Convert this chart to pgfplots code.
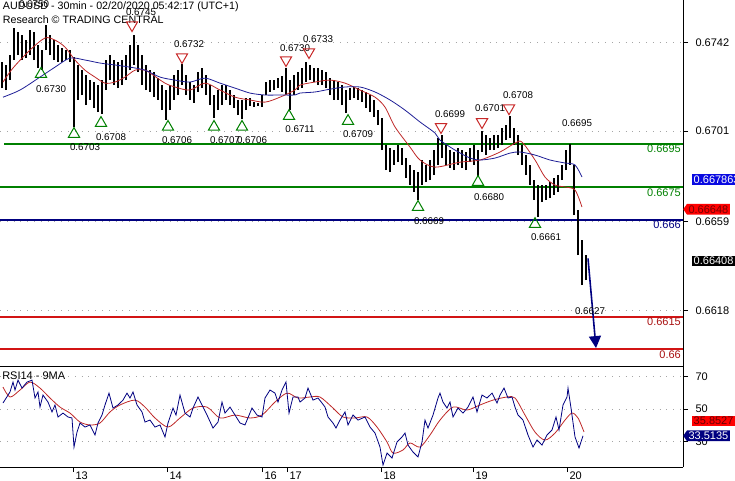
\documentclass[border=0pt]{standalone}
\usepackage{fontspec}
\setmainfont{Liberation Sans}
\usepackage{pgfplots}
\pgfplotsset{compat=1.18}
\usepackage{pgfplotstable}
\usetikzlibrary{arrows.meta,shapes.symbols}

\definecolor{lgreen}{RGB}{0,128,0}
\definecolor{lnavy}{RGB}{0,0,128}
\definecolor{lred}{RGB}{210,20,20}
\definecolor{mared}{RGB}{190,40,40}
\definecolor{mablue}{RGB}{30,30,150}
\definecolor{gridc}{RGB}{165,165,165}
\definecolor{boxblue}{RGB}{10,10,225}
\definecolor{tri}{RGB}{200,40,40}
\newcommand\fs{\fontsize{11}{12.5}\selectfont}
\newcommand\fp{\fontsize{9.8}{11}\selectfont}

\pgfplotstableread{
x lo hi
2 0.67209 0.67329
6 0.67200 0.67316
10 0.67246 0.67362
14 0.67339 0.67487
18 0.67362 0.67468
22 0.67339 0.67454
26 0.67348 0.67431
30 0.67362 0.67478
34 0.67339 0.67468
38 0.67302 0.67408
42 0.67292 0.67385
46 0.67385 0.67501
50 0.67362 0.67454
54 0.67339 0.67431
58 0.67329 0.67408
62 0.67329 0.67394
66 0.67339 0.67385
70 0.67329 0.67385
74 0.67029 0.67353
78 0.67154 0.67316
82 0.67177 0.67292
86 0.67130 0.67269
90 0.67154 0.67246
94 0.67116 0.67237
98 0.67098 0.67223
102 0.67089 0.67246
106 0.67200 0.67339
110 0.67246 0.67362
114 0.67223 0.67339
118 0.67209 0.67329
122 0.67223 0.67339
126 0.67246 0.67362
130 0.67292 0.67408
134 0.67316 0.67454
138 0.67283 0.67408
142 0.67223 0.67362
146 0.67200 0.67316
150 0.67191 0.67292
154 0.67167 0.67283
158 0.67154 0.67255
162 0.67107 0.67223
166 0.67061 0.67200
170 0.67107 0.67223
174 0.67154 0.67269
178 0.67177 0.67292
182 0.67223 0.67320
186 0.67177 0.67269
190 0.67154 0.67237
194 0.67140 0.67223
198 0.67191 0.67283
202 0.67209 0.67302
206 0.67177 0.67269
210 0.67130 0.67223
214 0.67070 0.67177
218 0.67107 0.67200
222 0.67130 0.67223
226 0.67154 0.67223
230 0.67130 0.67200
234 0.67116 0.67177
238 0.67084 0.67154
242 0.67066 0.67154
246 0.67107 0.67163
250 0.67126 0.67163
254 0.67121 0.67144
258 0.67126 0.67140
262 0.67121 0.67177
266 0.67177 0.67237
270 0.67191 0.67246
274 0.67200 0.67246
278 0.67209 0.67255
282 0.67191 0.67265
286 0.67177 0.67302
290 0.67107 0.67246
294 0.67177 0.67269
298 0.67200 0.67283
302 0.67209 0.67302
306 0.67237 0.67329
310 0.67246 0.67316
314 0.67237 0.67302
318 0.67223 0.67302
322 0.67223 0.67292
326 0.67209 0.67283
330 0.67177 0.67255
334 0.67154 0.67246
338 0.67154 0.67237
342 0.67130 0.67223
346 0.67093 0.67200
350 0.67154 0.67209
354 0.67163 0.67214
358 0.67154 0.67209
362 0.67144 0.67200
366 0.67116 0.67191
370 0.67098 0.67177
374 0.67075 0.67154
378 0.67038 0.67107
382 0.66922 0.67070
386 0.66829 0.66945
390 0.66820 0.66931
394 0.66853 0.66922
398 0.66866 0.66945
402 0.66853 0.66931
406 0.66792 0.66885
410 0.66760 0.66853
414 0.66728 0.66829
418 0.66691 0.66820
422 0.66760 0.66876
426 0.66774 0.66853
430 0.66783 0.66876
434 0.66806 0.66922
438 0.66853 0.66978
442 0.66885 0.66991
446 0.66853 0.66945
450 0.66839 0.66922
454 0.66829 0.66913
458 0.66853 0.66931
462 0.66839 0.66922
466 0.66829 0.66913
470 0.66866 0.66931
474 0.66853 0.66945
478 0.66802 0.66922
482 0.66913 0.67010
486 0.66899 0.66991
490 0.66922 0.66978
494 0.66922 0.66991
498 0.66931 0.66991
502 0.66945 0.67024
506 0.66968 0.67038
510 0.66978 0.67079
514 0.66945 0.67024
518 0.66899 0.66991
522 0.66853 0.66945
526 0.66806 0.66899
530 0.66760 0.66853
534 0.66691 0.66783
538 0.66612 0.66760
542 0.66681 0.66760
546 0.66691 0.66760
550 0.66700 0.66774
554 0.66714 0.66792
558 0.66728 0.66806
562 0.66783 0.66853
566 0.66829 0.66922
570 0.66853 0.66950
574 0.66621 0.66853
578 0.66436 0.66644
582 0.66297 0.66505
586 0.66320 0.66436
}\bars

\pgfplotstableread{
x y
3 0.67237
13 0.67302
30 0.67385
45 0.67441
55 0.67431
65 0.67399
75 0.67339
85 0.67292
95 0.67260
105 0.67232
115 0.67237
125 0.67260
135 0.67292
145 0.67292
150 0.67279
165 0.67232
175 0.67214
190 0.67200
205 0.67232
220 0.67200
235 0.67167
250 0.67154
265 0.67144
280 0.67167
295 0.67200
300 0.67223
315 0.67237
330 0.67246
345 0.67232
360 0.67200
375 0.67167
385 0.67121
395 0.67029
410 0.66936
420 0.66876
435 0.66843
460 0.66866
480 0.66876
500 0.66913
515 0.66954
522 0.66959
535 0.66876
545 0.66797
555 0.66760
565 0.66751
575 0.66737
582 0.66658
}\mared

\pgfplotstableread{
x y
3 0.67167
20 0.67200
40 0.67260
55 0.67306
70 0.67348
85 0.67339
100 0.67325
115 0.67316
130 0.67306
145 0.67292
160 0.67260
175 0.67246
190 0.67237
205 0.67255
220 0.67232
235 0.67209
250 0.67186
265 0.67177
280 0.67177
295 0.67177
300 0.67186
315 0.67191
330 0.67204
345 0.67214
360 0.67214
375 0.67191
390 0.67154
405 0.67107
420 0.67052
435 0.67001
440 0.66968
455 0.66922
470 0.66885
480 0.66876
495 0.66885
510 0.66908
520 0.66913
535 0.66899
550 0.66876
565 0.66862
575 0.66853
582 0.66797
}\mablue

\pgfplotstableread{
x y
3 53.7
10 60.5
13 66.6
15 61.7
18 67.8
22 62.9
27 66.6
32 67.8
35 56.8
38 60.5
40 51.2
43 58.6
48 54.3
52 48.2
55 52.5
58 45.1
63 47.5
68 45.1
72 44.5
74 26.6
77 35.8
80 41.4
85 38.9
90 40.2
95 34.0
98 41.4
102 46.3
105 52.5
109 59.8
113 50.6
118 52.5
123 55.5
127 59.8
130 56.8
133 60.5
137 52.5
142 48.2
145 42.0
150 43.2
155 38.9
160 40.2
165 32.8
168 41.4
173 50.6
176 46.3
180 58.6
185 47.5
190 45.1
193 50.6
198 57.4
202 52.5
207 46.3
213 38.3
218 42.0
222 54.3
225 47.5
230 51.2
235 46.3
240 41.4
245 40.2
252 50.6
257 46.3
262 45.1
265 56.8
270 61.7
275 59.8
278 54.3
282 61.7
286 66.6
289 47.5
293 57.4
298 57.4
300 54.3
305 56.8
308 62.9
313 55.5
318 56.8
322 53.7
325 51.2
328 45.1
333 41.4
336 38.3
340 43.2
345 48.2
348 40.2
353 46.3
358 43.2
365 45.1
370 38.9
375 35.2
380 26.6
383 15.5
387 22.9
392 19.8
397 29.7
402 32.8
405 35.2
408 27.8
413 23.5
418 20.5
422 29.7
425 43.2
428 38.3
433 46.3
438 56.8
440 59.8
443 54.3
447 50.6
450 54.3
453 45.1
458 50.6
463 47.5
468 51.2
473 57.4
477 48.2
482 58.6
487 56.8
492 59.8
497 53.7
500 58.6
504 62.9
508 56.8
512 57.4
515 51.2
518 46.3
523 43.2
528 34.0
533 26.6
537 30.9
542 27.8
547 34.0
552 37.1
556 45.1
559 37.1
563 52.5
567 57.4
568 62.9
571 50.6
575 32.8
579 26.0
583 33.5
}\rsi

\pgfplotstableread{
x y
3 63.5
10 57.4
20 61.7
30 66.6
40 62.9
50 56.8
60 51.2
70 47.5
80 42.0
90 40.2
100 41.4
110 48.2
120 52.5
135 55.5
145 51.2
155 44.5
168 38.9
180 44.5
193 50.6
207 51.2
220 44.5
235 46.3
250 44.5
262 46.3
275 54.3
287 59.8
298 56.8
310 57.4
320 57.4
333 50.6
343 45.1
355 44.5
367 45.1
377 38.9
387 29.7
393 22.9
403 24.8
410 29.1
420 26.6
430 34.0
440 43.2
453 51.2
467 49.4
480 52.5
493 55.5
507 57.4
515 56.8
525 46.3
535 35.8
545 30.9
555 35.2
565 43.2
572 47.5
578 44.5
584 35.9
}\rsima

\begin{document}
\begin{tikzpicture}
\useasboundingbox (0,0) rectangle (735pt,480pt);
% ---------------- main price panel ----------------
\begin{axis}[
  at={(0pt,480pt)}, anchor=north west, scale only axis,
  width=683pt, height=366pt,
  xmin=0, xmax=683, ymin=0.65922, ymax=0.67617,
  axis x line*=bottom, axis y line*=right,
  x axis line style={-}, y axis line style={-},
  axis line style={black, line width=1pt},
  xtick=\empty,
  ytick={0.6618,0.6659,0.6701,0.6742},
  yticklabels={0.6618,0.6659,0.6701,0.6742},
  scaled y ticks=false,
  tick align=outside, major tick length=5pt,
  tick style={black, line width=0.8pt},
  yticklabel style={font=\fs, anchor=west, xshift=4pt},
  ymajorgrids, grid style={gridc, line width=0.8pt, dash pattern=on 0.8pt off 6pt},
  clip=false,
]
% level lines
\addplot[lgreen, line width=2pt] coordinates {(4,0.6695) (683,0.6695)};
\addplot[lgreen, line width=2pt] coordinates {(0,0.6675) (683,0.6675)};
\addplot[lnavy, line width=2pt] coordinates {(0,0.6660) (683,0.6660)};
\addplot[lred, line width=2pt] coordinates {(0,0.6615) (683,0.6615)};
\addplot[lred, line width=2pt] coordinates {(0,0.6600) (683,0.6600)};
\node[font=\fs, text=lgreen, anchor=north east, inner sep=1pt] at (axis cs:682,0.6695) {0.6695};
\node[font=\fs, text=lgreen, anchor=north east, inner sep=1pt] at (axis cs:682,0.6675) {0.6675};
\node[font=\fs, text=lnavy, anchor=north east, inner sep=1pt] at (axis cs:682,0.6660) {0.666};
\node[font=\fs, text=lred!80!black, anchor=north east, inner sep=1pt] at (axis cs:682,0.6615) {0.6615};
\node[font=\fs, text=lred!80!black, anchor=north east, inner sep=1pt] at (axis cs:682,0.6600) {0.66};
% price bars
\addplot[draw=none, mark=none, forget plot,
  error bars/.cd, y dir=plus, y explicit, error mark=none,
  error bar style={draw=black, line width=2.3pt}]
  table[x=x, y=lo, y error expr=\thisrow{hi}-\thisrow{lo}] {\bars};
% moving averages
\addplot[mared, line width=0.8pt, smooth] table[x=x,y=y] {\mared};
\addplot[mablue, line width=0.8pt, smooth] table[x=x,y=y] {\mablue};
% forecast arrow
\addplot[lnavy, line width=1.6pt, -{Triangle[width=12pt,length=12pt]}] coordinates {(588,0.66420) (596,0.66005)};
% pivot markers
\addplot[only marks, mark=triangle, mark size=6.5pt, lgreen, mark options={line width=1pt}] coordinates {
(41,0.67274) (74,0.66996) (101,0.67047) (168,0.67029) (214,0.67029) (242,0.67029)
(289,0.67079) (348,0.67056) (418,0.66658) (478,0.66774) (535,0.66579)};
\addplot[only marks, mark=triangle, mark size=6.5pt, tri, mark options={rotate=180, line width=1pt}] coordinates {
(132,0.67501) (182,0.67353) (286,0.67339) (309,0.67376) (441,0.67029) (482,0.67052) (509,0.67116)};
% pivot labels
\node[font=\fp] at (axis cs:34,0.67598) {0.6750};
\node[font=\fp] at (axis cs:141,0.67561) {0.6745};
\node[font=\fp] at (axis cs:51,0.67204) {0.6730};
\node[font=\fp] at (axis cs:85,0.66936) {0.6703};
\node[font=\fp] at (axis cs:111,0.66982) {0.6708};
\node[font=\fp] at (axis cs:177,0.66968) {0.6706};
\node[font=\fp] at (axis cs:225,0.66968) {0.6707};
\node[font=\fp] at (axis cs:252,0.66968) {0.6706};
\node[font=\fp] at (axis cs:300,0.67019) {0.6711};
\node[font=\fp] at (axis cs:358,0.66996) {0.6709};
\node[font=\fp] at (axis cs:429,0.66593) {0.6669};
\node[font=\fp] at (axis cs:489,0.66704) {0.6680};
\node[font=\fp] at (axis cs:546,0.66519) {0.6661};
\node[font=\fp] at (axis cs:189,0.67413) {0.6732};
\node[font=\fp] at (axis cs:295,0.67394) {0.6730};
\node[font=\fp] at (axis cs:318,0.67436) {0.6733};
\node[font=\fp] at (axis cs:450,0.67089) {0.6699};
\node[font=\fp] at (axis cs:490,0.67116) {0.6701};
\node[font=\fp] at (axis cs:518,0.67177) {0.6708};
\node[font=\fp] at (axis cs:577,0.67047) {0.6695};
\node[font=\fp] at (axis cs:590,0.66177) {0.6627};
% title
\node[font=\fontsize{10.7}{12}\selectfont, anchor=west, inner sep=0pt] at (rel axis cs:0.004,0.981) {AUDUSD - 30min - 02/20/2020 05:42:17 (UTC+1)};
\node[font=\fontsize{10.7}{12}\selectfont, anchor=west, inner sep=0pt] at (rel axis cs:0.004,0.945) {Research © TRADING CENTRAL};
% right-hand value tags
\node[fill=boxblue, text=white, font=\fs, inner sep=1.5pt, anchor=west] at (axis cs:692,0.667863) {0.667863};
\node[signal, signal to=west, signal pointer angle=110, fill=red, text=red!45!black, font=\fs, inner sep=1.5pt, anchor=west] at (axis cs:683,0.66648) {0.66648};
\node[fill=black, text=white, font=\fs, inner sep=1.5pt, anchor=west] at (axis cs:692,0.66408) {0.66408};
\end{axis}
% ---------------- RSI panel ----------------
\begin{axis}[
  at={(0pt,114pt)}, anchor=north west, scale only axis,
  width=683pt, height=101pt,
  xmin=0, xmax=683, ymin=14.3, ymax=76.5,
  axis x line*=bottom, axis y line*=right,
  x axis line style={-}, y axis line style={-},
  axis line style={black, line width=1pt},
  xtick={73,167,262,287,381,473,567},
  xticklabels={13,14,16,17,18,19,20},
  ytick={30,50,70}, yticklabels={30,50,70},
  tick align=outside, major tick length=5pt,
  tick style={black, line width=0.8pt},
  yticklabel style={font=\fs, anchor=west, xshift=4pt},
  xticklabel style={font=\fs, anchor=north west, xshift=-1pt, yshift=4pt},
  ymajorgrids, grid style={gridc, line width=0.8pt, dash pattern=on 0.8pt off 6pt},
  clip=false,
]
\addplot[mared, line width=0.8pt, smooth] table[x=x,y=y] {\rsima};
\addplot[lnavy, line width=0.8pt] table[x=x,y=y] {\rsi};
\node[font=\fs, anchor=west, inner sep=0pt] at (rel axis cs:0.003,0.90) {RSI14 - 9MA};
\node[fill=red, text=red!40!black, font=\fs, inner sep=1.5pt, anchor=west] at (axis cs:692,42.6) {35.8527};
\node[signal, signal to=west, signal pointer angle=110, fill=lnavy, text=white, font=\fs, inner sep=1.5pt, anchor=west] at (axis cs:683,33.5135) {33.5135};
\end{axis}
\end{tikzpicture}
\end{document}
